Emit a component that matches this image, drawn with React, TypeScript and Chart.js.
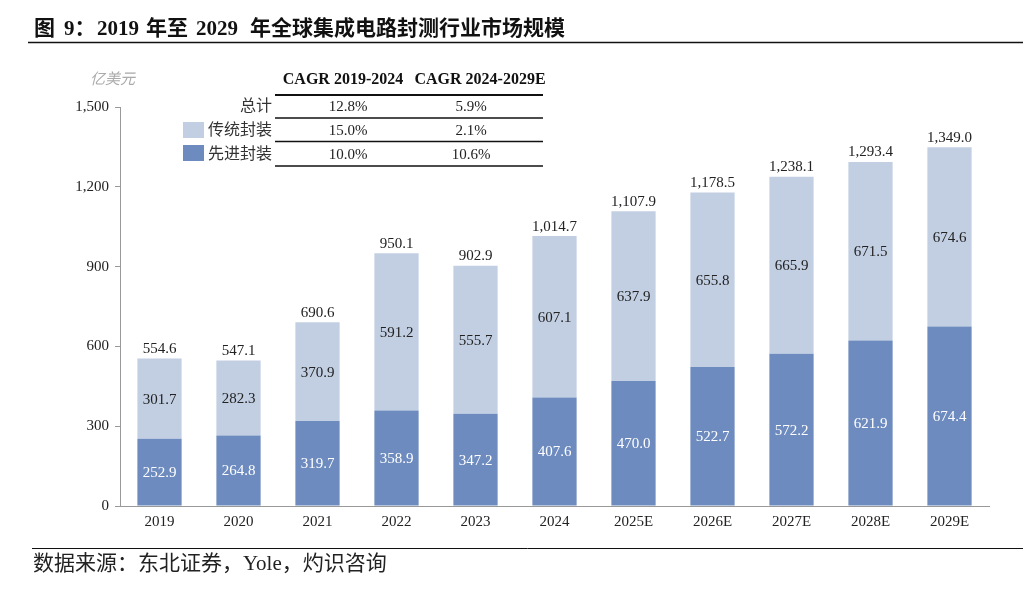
import React, { useEffect, useRef } from "react";
import { Chart, registerables } from "chart.js";
Chart.register(...registerables);

const categories = ["2019", "2020", "2021", "2022", "2023", "2024", "2025E", "2026E", "2027E", "2028E", "2029E"];
const advanced = [252.9, 264.8, 319.7, 358.9, 347.2, 407.6, 470.0, 522.7, 572.2, 621.9, 674.4];
const traditional = [301.7, 282.3, 370.9, 591.2, 555.7, 607.1, 637.9, 655.8, 665.9, 671.5, 674.6];
const totals = [554.6, 547.1, 690.6, 950.1, 902.9, 1014.7, 1107.9, 1178.5, 1238.1, 1293.4, 1349.0];
const yMax = 1500;
const yStep = 300;
const seriesNames = ["先进封装", "传统封装"];
const cagrHeaders = ["CAGR 2019-2024", "CAGR 2024-2029E"];
const cagrRows = ["总计", "传统封装", "先进封装"];
const cagrFirst = ["12.8%", "15.0%", "10.0%"];
const cagrSecond = ["5.9%", "2.1%", "10.6%"];
const titleParts = ["图", "9：", "2019", "年至", "2029", "年全球集成电路封测行业市场规模"];
const sourceText = "数据来源：东北证券，Yole，灼识咨询";
const unitText = "亿美元";

const DARK = "#6d8bbe";
const LIGHT = "#c2cfe3";
const SERIF = '"Liberation Serif", "Times New Roman", "Noto Sans CJK SC", serif';
const CJK = '"Liberation Serif", "Noto Sans CJK SC", serif';

const fmt = (v: number) =>
  v.toLocaleString("en-US", { minimumFractionDigits: 1, maximumFractionDigits: 1 });

const overlay = {
  id: "overlay",
  afterDatasetsDraw(chart: any) {
    const ctx = chart.ctx as CanvasRenderingContext2D;
    ctx.save();
    const m0 = chart.getDatasetMeta(0);
    const m1 = chart.getDatasetMeta(1);
    ctx.font = `15px ${SERIF}`;
    ctx.textAlign = "center";
    ctx.textBaseline = "middle";
    m0.data.forEach((bar: any, i: number) => {
      ctx.fillStyle = "#ffffff";
      ctx.fillText(fmt(advanced[i]), bar.x, (bar.y + bar.base) / 2 + 1);
    });
    m1.data.forEach((bar: any, i: number) => {
      ctx.fillStyle = "#222222";
      ctx.fillText(fmt(traditional[i]), bar.x, (bar.y + bar.base) / 2 + 1);
      ctx.textBaseline = "bottom";
      ctx.fillText(fmt(totals[i]), bar.x, bar.y - 2);
      ctx.textBaseline = "middle";
    });
    ctx.restore();
  },
  afterDraw(chart: any) {
    const ctx = chart.ctx as CanvasRenderingContext2D;
    ctx.save();
    // title
    ctx.fillStyle = "#111";
    ctx.font = `bold 21px ${CJK}`;
    ctx.textAlign = "left";
    ctx.textBaseline = "middle";
    const titleX = [34, 64, 97, 146, 196, 250];
    titleParts.forEach((p, i) => ctx.fillText(p, titleX[i], 30));
    ctx.strokeStyle = "#111";
    ctx.lineWidth = 1.5;
    ctx.beginPath();
    ctx.moveTo(28, 42.5);
    ctx.lineTo(1023, 42.5);
    ctx.stroke();
    // source
    ctx.lineWidth = 1;
    ctx.beginPath();
    ctx.moveTo(32, 548.5);
    ctx.lineTo(1023, 548.5);
    ctx.stroke();
    ctx.font = `21px ${CJK}`;
    ctx.fillStyle = "#222";
    ctx.fillText(sourceText, 33, 564);
    // unit
    ctx.font = `italic 15px ${CJK}`;
    ctx.fillStyle = "#aaa";
    ctx.fillText(unitText, 90, 80);
    // legend table
    ctx.fillStyle = "#111";
    ctx.font = `bold 16px ${SERIF}`;
    ctx.textAlign = "center";
    ctx.fillText(cagrHeaders[0], 343, 80);
    ctx.fillText(cagrHeaders[1], 480, 80);
    ctx.strokeStyle = "#111";
    ctx.lineWidth = 2;
    ctx.beginPath();
    ctx.moveTo(275, 95);
    ctx.lineTo(543, 95);
    ctx.stroke();
    const lineYs = [118, 141.5, 166];
    ctx.lineWidth = 1.5;
    lineYs.forEach((y) => {
      ctx.beginPath();
      ctx.moveTo(275, y);
      ctx.lineTo(543, y);
      ctx.stroke();
    });
    const rowYs = [107, 131, 155];
    cagrRows.forEach((r, i) => {
      ctx.font = `16px ${CJK}`;
      ctx.fillStyle = "#333";
      ctx.textAlign = "right";
      ctx.fillText(r, 272, rowYs[i]);
      ctx.font = `15px ${SERIF}`;
      ctx.fillStyle = "#222";
      ctx.textAlign = "center";
      ctx.fillText(cagrFirst[i], 348, rowYs[i]);
      ctx.fillText(cagrSecond[i], 471, rowYs[i]);
    });
    ctx.fillStyle = LIGHT;
    ctx.fillRect(183, 122, 21, 16);
    ctx.fillStyle = DARK;
    ctx.fillRect(183, 145, 21, 16);
    ctx.restore();
  },
};

export default function App() {
  const ref = useRef<HTMLCanvasElement>(null);
  useEffect(() => {
    document.body.style.margin = "0";
    const chart = new Chart(ref.current!, {
      type: "bar",
      data: {
        labels: categories,
        datasets: [
          { label: seriesNames[0], data: advanced, backgroundColor: DARK, barPercentage: 0.56, categoryPercentage: 1 },
          { label: seriesNames[1], data: traditional, backgroundColor: LIGHT, barPercentage: 0.56, categoryPercentage: 1 },
        ],
      },
      options: {
        animation: false,
        responsive: false,
        devicePixelRatio: 1,
        layout: { padding: { left: 0, top: 107, right: 34, bottom: 0 } },
        plugins: { legend: { display: false }, tooltip: { enabled: false }, title: { display: false } },
        scales: {
          x: {
            stacked: true,
            grid: { display: false, drawTicks: false },
            border: { color: "#999", width: 1 },
            ticks: { color: "#222", font: { family: SERIF, size: 15 }, padding: 7 },
            afterFit: (s: any) => { s.height = 85; },
          },
          y: {
            stacked: true,
            min: 0,
            max: yMax,
            ticks: {
              stepSize: yStep,
              color: "#222",
              font: { family: SERIF, size: 15 },
              padding: 6,
              callback: (v: any) => Number(v).toLocaleString("en-US"),
            },
            grid: { drawOnChartArea: false, drawTicks: true, tickLength: 5, color: "#999" },
            border: { color: "#999", width: 1 },
            afterFit: (s: any) => { s.width = 120; },
          },
        },
      },
      plugins: [overlay],
    });
    return () => chart.destroy();
  }, []);
  return (
    <div style={{ position: "fixed", left: 0, top: 0, width: 1023, height: 591, background: "#fff" }}>
      <canvas ref={ref} width={1023} height={591} style={{ width: 1023, height: 591 }} />
    </div>
  );
}
